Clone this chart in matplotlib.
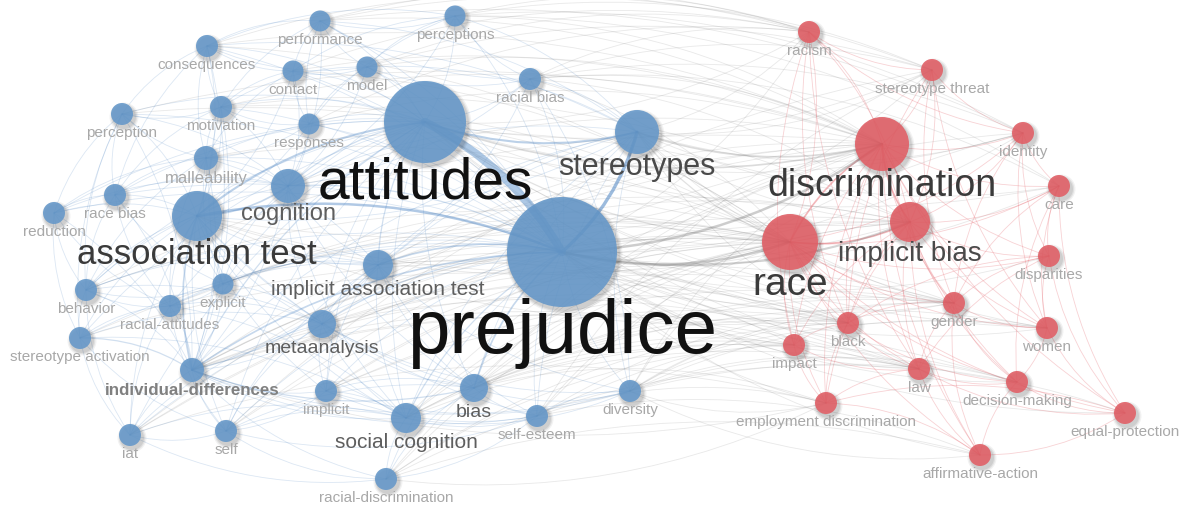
import matplotlib
matplotlib.use("Agg")
import matplotlib.pyplot as plt
from matplotlib.path import Path
from matplotlib.patches import PathPatch, Circle
import numpy as np

plt.rcParams["font.family"] = ["Liberation Sans", "DejaVu Sans"]

# ---- co-occurrence map: terms, layout coordinates, node weight, cluster ----
terms = ["prejudice", "attitudes", "association test", "stereotypes",
         "implicit association test", "cognition", "metaanalysis",
         "social cognition", "bias", "individual-differences", "malleability",
         "performance", "perceptions", "consequences", "contact", "model",
         "racial bias", "perception", "motivation", "responses", "race bias",
         "reduction", "explicit", "behavior", "racial-attitudes",
         "stereotype activation", "implicit", "diversity", "self-esteem",
         "iat", "self", "racial-discrimination",
         "racism", "stereotype threat", "discrimination", "identity", "care",
         "race", "implicit bias", "disparities", "gender", "black", "women",
         "impact", "law", "decision-making", "employment discrimination",
         "equal-protection", "affirmative-action"]

map_x = [562, 425, 197, 637, 378, 288, 322, 406, 474, 192, 206, 320, 455, 207,
         293, 367, 530, 122, 221, 309, 115, 54, 223, 86, 170, 80, 326, 630, 537,
         130, 226, 386,
         809, 932, 882, 1023, 1059, 790, 910, 1049, 954, 848, 1047, 794, 919,
         1017, 826, 1125, 980]
map_y = [253, 123, 217, 133, 266, 187, 325, 419, 389, 371, 159, 22, 17, 47,
         72, 68, 80, 115, 108, 125, 196, 214, 285, 291, 307, 339, 392, 392, 417,
         436, 432, 480,
         33, 71, 145, 134, 187, 243, 223, 257, 304, 324, 329, 346, 370, 383, 404,
         414, 456]
weight = [55, 41, 25, 22, 15, 17, 14, 15, 14, 12, 12, 10.5, 10.5, 11, 10.5, 10.5,
          11, 11, 11, 10.5, 11, 11, 10.5, 11, 11, 11, 11, 11, 11, 11, 11, 11,
          11, 11, 27, 11, 11, 28, 20, 11, 11, 11, 11, 11, 11, 11, 11, 11, 11]
cluster = [1] * 32 + [2] * 17

# ---- links (term: neighbour [strength]; ...) ----
links = {
    "prejudice": "attitudes 10; stereotypes 4; discrimination 3; race 3; implicit bias 2.5; "
                 "association test 3; implicit association test 2; cognition 1.5; metaanalysis 1.5; "
                 "social cognition 1.5; bias 2; individual-differences 2; malleability; performance; "
                 "perceptions; consequences; contact; model; racial bias; perception; motivation; "
                 "responses; race bias; reduction; explicit; behavior; racial-attitudes; "
                 "stereotype activation; implicit; diversity; self-esteem; iat; self; "
                 "racial-discrimination; racism; stereotype threat; identity; care; disparities; "
                 "gender; black; women; impact; law; decision-making; employment discrimination; "
                 "equal-protection; affirmative-action",
    "attitudes": "stereotypes 2.5; association test 2.5; implicit association test 1.5; cognition 1.5; "
                 "metaanalysis; social cognition; bias; individual-differences 1.5; malleability; "
                 "performance; perceptions; consequences; contact; model; racial bias; perception; "
                 "motivation; responses; race bias; reduction; explicit; behavior; racial-attitudes; "
                 "stereotype activation; implicit; iat; self; discrimination 2; race 1.5; implicit bias; "
                 "racism; identity; gender; black; law; decision-making; women; care; stereotype threat",
    "association test": "stereotypes; implicit association test; cognition 2; metaanalysis; "
                        "social cognition; individual-differences 2; malleability; perception; "
                        "motivation; race bias; reduction; explicit; behavior; racial-attitudes; "
                        "stereotype activation; implicit; iat; self; self-esteem; discrimination; race; "
                        "implicit bias; bias; consequences; contact; responses; gender",
    "stereotypes": "discrimination 2; race 1.5; implicit bias; cognition; social cognition; bias; "
                   "individual-differences; racial bias; perceptions; performance; model; "
                   "stereotype threat; racism; identity; gender; diversity; self-esteem; "
                   "implicit association test; metaanalysis; women; care; black; consequences",
    "discrimination": "race 2; implicit bias 2; racism; stereotype threat; identity; care; disparities; "
                      "gender; black; women; impact; law; decision-making; employment discrimination; "
                      "equal-protection; affirmative-action; bias; diversity; individual-differences; "
                      "social cognition; metaanalysis; racial-discrimination; perceptions; "
                      "implicit association test; cognition; racial bias; contact; performance; model; "
                      "consequences; motivation; responses; perception; behavior; iat",
    "race": "implicit bias 2; racism; identity; care; disparities; gender; black; women; impact; law; "
            "decision-making; employment discrimination; equal-protection; affirmative-action; bias; "
            "diversity; individual-differences 1.5; implicit association test; social cognition; "
            "racial-discrimination; self-esteem; metaanalysis; implicit; racial bias; contact; "
            "consequences; motivation; perception; malleability; cognition; explicit; behavior; "
            "racial-attitudes; stereotype activation; iat; self",
    "implicit bias": "care; disparities; gender; black; women; impact; law; decision-making; "
                     "employment discrimination; affirmative-action; identity; stereotype threat; racism; "
                     "bias; individual-differences; implicit association test; social cognition; implicit; "
                     "iat; racial bias; motivation; malleability; explicit",
    "racism": "stereotype threat; black; impact; identity; perceptions; racial bias; model; consequences; "
              "performance; contact; responses; law",
    "stereotype threat": "identity; gender; women; perceptions; racial bias; performance; self-esteem; "
                         "model; self; black",
    "identity": "care; women; disparities; racial bias; self-esteem; self; perceptions; performance; gender",
    "care": "disparities; equal-protection; gender; decision-making; perceptions; racial bias; women",
    "disparities": "women; gender; equal-protection; law; black",
    "gender": "women; black; law; affirmative-action; decision-making; individual-differences; bias; "
              "diversity; implicit; self-esteem; social cognition; metaanalysis; implicit association test",
    "black": "law; impact; employment discrimination; bias; social cognition; decision-making; "
             "racial-attitudes; stereotype activation; implicit; diversity; metaanalysis; "
             "implicit association test; racial-discrimination; individual-differences",
    "impact": "employment discrimination; law; diversity; social cognition; bias; "
              "implicit association test; racial-discrimination; individual-differences",
    "law": "decision-making; affirmative-action; equal-protection; employment discrimination; "
           "individual-differences; bias; diversity; social cognition; metaanalysis; "
           "implicit association test; racial-discrimination",
    "decision-making": "affirmative-action; equal-protection; women; diversity; bias; individual-differences",
    "women": "equal-protection; diversity; self-esteem; bias",
    "affirmative-action": "equal-protection; employment discrimination; racial-discrimination; self-esteem",
    "equal-protection": "employment discrimination; diversity",
    "employment discrimination": "bias; iat; self-esteem",
    "individual-differences": "iat; self; implicit; stereotype activation 1.5; behavior; racial-attitudes; "
                              "explicit; metaanalysis; implicit association test 1.5; cognition; malleability; "
                              "social cognition; bias 1.5; self-esteem; diversity; racial-discrimination; "
                              "race bias; reduction; motivation; employment discrimination; perception; consequences",
    "cognition": "malleability; motivation; responses; contact; model; performance; perception; "
                 "implicit association test; metaanalysis; social cognition; explicit; behavior; "
                 "race bias; reduction; racial bias; perceptions; bias",
    "implicit association test": "metaanalysis; explicit; bias; social cognition; implicit; self-esteem; "
                                 "racial-attitudes; behavior; malleability; diversity; racial bias; self",
    "metaanalysis": "explicit; behavior; racial-attitudes; implicit; bias; social cognition; "
                    "stereotype activation; self; iat; diversity",
    "social cognition": "implicit; bias; self-esteem; self; iat; racial-discrimination; diversity; "
                        "stereotype activation; racial-attitudes",
    "bias": "self-esteem; diversity; implicit; racial-discrimination; self",
    "performance": "perceptions; consequences; contact; model; motivation; racial bias; responses",
    "perceptions": "model; racial bias; consequences; contact; responses",
    "consequences": "contact; motivation; perception; model; malleability; race bias",
    "contact": "model; responses; motivation; malleability",
    "model": "responses; racial bias; motivation",
    "perception": "motivation; race bias; reduction; malleability; behavior; stereotype activation",
    "motivation": "responses; malleability; race bias; explicit",
    "malleability": "race bias; reduction; explicit; responses; behavior; racial-attitudes",
    "race bias": "reduction; behavior; racial-attitudes; explicit",
    "reduction": "behavior; stereotype activation; racial-attitudes",
    "behavior": "stereotype activation; racial-attitudes; explicit; iat",
    "racial-attitudes": "explicit; stereotype activation; iat; self",
    "stereotype activation": "iat; self",
    "iat": "self; racial-discrimination",
    "self": "implicit; racial-discrimination; self-esteem",
    "implicit": "self-esteem; diversity",
    "racial-discrimination": "self-esteem; employment discrimination",
    "diversity": "affirmative-action; employment discrimination; racial bias; self-esteem",
}

idx = {t: i for i, t in enumerate(terms)}
edges = []
seen = set()
for src, txt in links.items():
    for item in txt.split(";"):
        item = item.strip()
        head, _, tail = item.rpartition(" ")
        try:
            w = float(tail)
            name = head
        except ValueError:
            w = 1.0
            name = item
        key = frozenset((src, name))
        if key in seen:
            continue
        seen.add(key)
        edges.append((idx[src], idx[name], w))
edges.sort(key=lambda e: e[2])

BLUE = "#6497c9"
RED = "#e15d64"

fig = plt.figure(figsize=(11.84, 5.06), dpi=100)
ax = fig.add_axes([0, 0, 1, 1])
ax.set_xlim(0, 1184)
ax.set_ylim(506, 0)
ax.axis("off")


def curve(p0, p2, rad=0.15):
    p0 = np.asarray(p0, float)
    p2 = np.asarray(p2, float)
    d = p2 - p0
    mid = (p0 + p2) / 2
    perp = np.array([-d[1], d[0]])
    p1 = mid + rad * perp
    return Path([p0, p1, p2], [Path.MOVETO, Path.CURVE3, Path.CURVE3])


for a, b, w in edges:
    ca, cb = cluster[a], cluster[b]
    if ca == cb == 1:
        col, base = "#4f86c4", 0.20
    elif ca == cb == 2:
        col, base = "#e8737a", 0.32
    else:
        col, base = "#7a7a7a", 0.17
    if w >= 6:
        col, alpha = "#6a9bd0", 0.55
    else:
        alpha = min(0.6, base * (1 + 0.6 * (w - 1)))
    lw = 0.6 * w if w > 1 else 0.6
    p = curve((map_x[a], map_y[a]), (map_x[b], map_y[b]))
    ax.add_patch(PathPatch(p, facecolor="none", edgecolor=col, lw=lw,
                           alpha=alpha, zorder=1, capstyle="round"))

# nodes with soft drop shadow
for i, t in enumerate(terms):
    x, y, r = map_x[i], map_y[i], weight[i]
    for k, a_ in ((3.5, 0.05), (2.2, 0.07), (1.0, 0.08)):
        ax.add_patch(Circle((x + 2, y + 3), r + k, facecolor="#000000",
                            edgecolor="none", alpha=a_, zorder=2))
    col = BLUE if cluster[i] == 1 else RED
    ax.add_patch(Circle((x, y), r, facecolor=col, edgecolor="none",
                        alpha=0.88, zorder=3))


def label_color(r):
    if r >= 40:
        return "#111111"
    if r >= 24:
        return "#3a3a3a"
    if r >= 19:
        return "#4a4a4a"
    if r >= 14:
        return "#5e5e5e"
    return "#a8a8a8"


for i, t in enumerate(terms):
    x, y, r = map_x[i], map_y[i], weight[i]
    fs = max(r, 11)
    fs_px = fs * 100 / 72
    base_y = y + r + 0.55 * fs_px + 3
    if t == "individual-differences":
        ax.text(x, base_y, t, fontsize=12.2, fontweight="bold", color="#808080",
                ha="center", va="baseline", zorder=4)
    else:
        ax.text(x, base_y, t, fontsize=fs, color=label_color(r),
                ha="center", va="baseline", zorder=4)

fig.savefig("out.png", dpi=100, facecolor="white")
